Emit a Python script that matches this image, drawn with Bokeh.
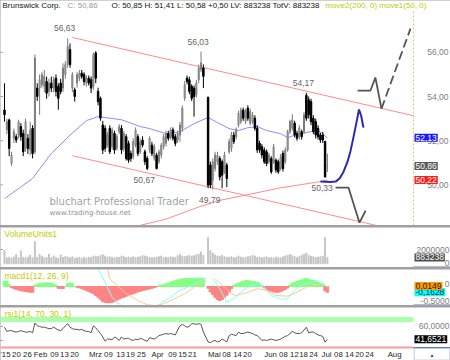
from bokeh.plotting import figure
from bokeh.models import Range1d, Label, ColumnDataSource
from bokeh.layouts import column
from bokeh.embed import file_html
from bokeh.resources import INLINE

nan = float("nan")

# ---------------- data ----------------
days = [*range(86), *range(87, 139)]  # trading-day slots, one missing day

opens = [53.39, 52.49, 52.94, 50.97, 52.11, 52.18, 52.26, 52.64, 52.33, 51.65, 52.11, 51.58, 52.56, 51.50,
         54.38, 54.38, 54.53, 54.46, 54.68, 54.23, 54.61, 54.38, 54.83, 54.46, 54.61, 54.38, 54.99, 55.44,
         56.12, 54.38, 54.30, 54.61, 54.83, 55.06, 54.99, 54.60, 54.83, 54.76, 54.46, 55.97, 54.23, 53.92,
         52.71, 52.56, 51.80, 52.56, 51.73, 52.33, 51.65, 52.41, 52.56, 51.65, 52.18, 51.88, 51.42, 51.27,
         51.80, 52.18, 51.50, 52.03, 51.50, 51.20, 51.58, 51.80, 51.20, 51.35, 51.05, 51.35, 51.73, 51.88,
         52.33, 52.18, 52.49, 52.18, 52.03, 52.26, 52.56, 53.92, 54.83, 54.76, 54.46, 54.38, 54.08, 54.76,
         55.21, 55.29,
         53.96, 50.90, 50.21, 50.74, 51.05, 51.20, 51.05, 50.59, 50.90, 51.50, 51.65, 52.26, 52.18, 52.71,
         52.86, 53.39, 52.86, 53.47, 52.79, 52.86, 53.02, 52.56, 51.88, 51.73, 51.58, 51.50, 51.05, 51.20,
         51.05, 51.12, 51.05, 50.74, 51.42, 51.05, 51.58, 52.41, 52.56, 52.79, 52.33, 52.18, 52.41, 52.41,
         54.05, 53.85, 53.77, 53.02, 52.86, 52.56, 52.26, 52.26, 51.96, 50.85]
highs = [54.60, 53.00, 53.00, 51.50, 52.55, 52.30, 52.95, 52.80, 52.50, 53.00, 52.30, 52.86, 52.70, 55.90,
         54.60, 55.00, 55.10, 55.20, 54.90, 54.80, 54.90, 54.90, 55.00, 54.60, 54.80, 55.50, 55.60, 56.63,
         56.40, 55.10, 54.40, 55.10, 55.20, 55.20, 55.10, 54.95, 54.95, 54.90, 56.00, 56.05, 54.40, 54.00,
         52.90, 52.70, 52.40, 52.70, 52.60, 52.45, 52.30, 52.75, 52.70, 52.45, 52.30, 52.00, 51.55, 52.10,
         52.60, 52.30, 52.10, 52.20, 51.60, 51.30, 52.20, 51.95, 51.85, 51.45, 51.60, 51.90, 52.30, 52.45,
         52.45, 52.60, 52.60, 52.30, 52.45, 52.85, 53.60, 54.70, 54.95, 54.90, 54.55, 54.50, 54.75, 55.45,
         56.03, 55.45,
         54.00, 51.05, 51.20, 51.50, 51.50, 51.30, 51.15, 51.50, 51.00, 52.10, 52.40, 52.40, 52.60, 53.35,
         53.50, 53.50, 53.45, 53.60, 53.45, 53.30, 53.15, 52.70, 52.00, 51.85, 51.70, 51.60, 51.45, 51.30,
         51.85, 51.20, 51.15, 51.40, 51.55, 51.70, 52.50, 52.95, 53.20, 52.90, 52.45, 52.70, 52.50, 53.30,
         54.17, 54.00, 53.90, 53.15, 53.00, 52.70, 52.35, 52.40, 52.00, 51.41]
lows = [52.86, 52.30, 51.30, 50.85, 51.90, 51.90, 52.10, 52.00, 51.30, 51.50, 51.40, 51.35, 51.20, 51.40,
        53.80, 53.17, 54.40, 54.20, 53.90, 54.00, 54.20, 54.20, 54.00, 53.40, 54.10, 54.20, 54.80, 55.30,
        55.30, 54.20, 53.77, 54.40, 54.70, 54.80, 54.50, 54.45, 54.50, 54.15, 54.30, 54.60, 53.60, 52.90,
        51.40, 51.50, 51.70, 51.40, 51.60, 51.40, 51.55, 52.30, 51.40, 51.50, 51.10, 51.00, 51.05, 51.15,
        51.70, 51.30, 51.40, 51.70, 50.90, 50.67, 51.45, 51.30, 51.10, 50.70, 50.95, 51.20, 51.60, 51.75,
        52.00, 52.05, 52.00, 51.75, 51.90, 51.95, 52.40, 53.80, 54.55, 54.10, 53.80, 53.09, 53.95, 54.60,
        55.10, 54.38,
        49.85, 49.85, 49.79, 50.60, 50.90, 50.20, 49.85, 50.50, 49.90, 51.40, 51.50, 51.85, 52.05, 52.60,
        52.75, 52.90, 52.75, 52.90, 52.70, 52.75, 52.45, 51.45, 51.45, 51.20, 50.95, 50.85, 50.95, 50.50,
        50.95, 50.55, 50.50, 50.65, 50.60, 50.95, 51.50, 52.30, 52.45, 52.15, 52.00, 52.05, 52.05, 52.30,
        52.90, 53.00, 52.70, 52.30, 52.10, 52.05, 51.90, 51.90, 50.33, 50.58]
closes = [53.17, 52.86, 51.65, 51.35, 52.41, 52.03, 52.86, 52.18, 51.50, 52.86, 51.65, 52.49, 51.42, 55.74,
          54.00, 54.76, 54.99, 54.91, 54.15, 54.61, 54.38, 54.76, 54.23, 53.92, 54.23, 55.29, 55.44, 56.27,
          55.44, 54.99, 54.00, 54.99, 55.06, 54.91, 54.68, 54.83, 54.61, 54.38, 55.89, 54.83, 53.77, 53.02,
          51.58, 51.65, 52.26, 51.50, 52.49, 51.58, 52.18, 52.64, 51.58, 52.33, 51.20, 51.12, 51.20, 51.96,
          52.49, 51.42, 51.95, 51.80, 51.05, 50.74, 52.11, 51.42, 51.73, 50.74, 51.50, 51.80, 52.18, 52.33,
          52.11, 52.49, 52.11, 51.88, 52.33, 52.71, 53.47, 54.53, 54.68, 54.23, 53.92, 54.00, 54.61, 55.29,
          55.52, 54.91,
          49.99, 49.99, 51.05, 51.35, 51.35, 50.36, 50.44, 51.35, 50.29, 51.96, 52.26, 51.96, 52.49, 53.24,
          53.39, 53.02, 53.32, 53.02, 53.32, 53.17, 52.56, 51.58, 51.58, 51.35, 51.05, 50.97, 51.35, 50.59,
          51.73, 50.67, 50.59, 51.27, 50.74, 51.58, 52.41, 52.86, 52.94, 52.26, 52.11, 52.56, 52.18, 53.17,
          53.02, 53.17, 52.86, 52.41, 52.26, 52.18, 52.03, 52.03, 50.36, 50.86]

volume_k = [1900, 850, 900, 800, 950, 1300, 850, 1800, 900, 850, 950, 1250, 850, 3100,
            900, 1300, 1050, 850, 900, 1350, 850, 1100, 900, 800, 1250, 900, 1050, 950,
            850, 1000, 800, 850, 900, 750, 900, 800, 950, 900, 1100, 1050, 1000, 1150,
            1300, 1100, 950, 1000, 900, 850, 950, 900, 1100, 1000, 900, 950, 850, 1000,
            900, 950, 1000, 1150, 1100, 1000, 900, 850, 900, 950, 1000, 1100, 850, 950,
            900, 1000, 950, 900, 1150, 1300, 1050, 1000, 1100, 1200, 1050, 1150, 1250, 1350, 1650, 1200,
            3700, 1850, 1500, 1250, 1100, 1050, 1200, 1000, 900, 950, 1000, 850, 900, 1100,
            950, 850, 900, 1000, 1050, 1200, 1100, 900, 950, 850, 900, 1000, 850, 900,
            800, 950, 900, 850, 1000, 1100, 1200, 1300, 1150, 1000, 900, 1050, 1200, 1350, 1500,
            1200, 1050, 1000, 900, 950, 1000, 1100, 3700, 883.238]

macd_hist = [0.15, 0.15, 0.05, -0.03, -0.06, -0.08, -0.10, -0.12, -0.13, -0.14, -0.15, -0.16, -0.16,
             0.04, 0.06, 0.08, 0.09, 0.10, 0.10, 0.10, 0.09, 0.07, 0.04, -0.05, -0.06, -0.06, 0.0,
             0.08, 0.10, 0.08, 0.0, -0.02, -0.04, -0.06, -0.08, -0.11, -0.14, -0.17, -0.20, -0.25,
             -0.30, -0.36, -0.42, -0.44, -0.45, -0.45, -0.44, -0.42, -0.38, -0.35, -0.32, -0.30, -0.27,
             -0.25, -0.22, -0.20, -0.18, -0.15, -0.13, -0.11, -0.10, -0.08, -0.07, -0.05, -0.03, -0.01,
             0.02, 0.04, 0.05, 0.07, 0.10, 0.12, 0.14, 0.16, 0.18, 0.20, 0.21, 0.22, 0.22, 0.23, 0.23,
             0.23, 0.23, 0.23, 0.23, 0.23,
             -0.05, -0.15, -0.22, -0.30, -0.36, -0.39, -0.36, -0.30, -0.24, -0.15, -0.06,
             0.03, 0.07, 0.10, 0.12, 0.14, 0.16, 0.16, 0.15, 0.14, 0.13, 0.12, 0.08, 0.03,
             -0.04, -0.08, -0.11, -0.13, -0.15, -0.16, -0.16, -0.14, -0.11, -0.08, -0.04,
             0.04, 0.10, 0.12, 0.14, 0.16, 0.18, 0.21, 0.23, 0.20, 0.18, 0.17, 0.14, 0.11, 0.08, 0.04,
             -0.12, -0.16]

macd_days = [40, 42, 44, 46, 48, 50, 52, 61, 65, 67, 71, 75, 80, 84, 86, 87, 89, 92, 95, 98,
             101, 104, 108, 111, 114, 118, 121, 124, 127, 131, 134, 137, 138]
macd_line = [0.49, 0.23, -0.02, -0.30, -0.44, -0.53, -0.62, -0.63, -0.56, -0.45, -0.30, -0.11, 0.03,
             0.17, 0.21, nan, 0.23, -0.06, -0.44, -0.34, -0.16, -0.02, 0.07, -0.02, -0.25, -0.36,
             -0.34, -0.11, 0.05, 0.12, 0.17, 0.05, -0.02]
signal_days = [44, 45, 49, 52, 57, 61, 65, 68, 72, 77, 81, 85, 86, 87, 90, 94, 97, 99, 104, 108,
               112, 116, 121, 125, 129, 134, 137, 138]
signal_line = [0.50, 0.21, -0.02, -0.20, -0.39, -0.51, -0.53, -0.48, -0.36, -0.20, -0.02, 0.12, 0.17,
               nan, 0.21, -0.02, -0.20, -0.25, -0.16, -0.06, -0.11, -0.25, -0.27, -0.16, -0.02, 0.07,
               0.03, -0.02]
macd_last = -0.1628
signal_last = 0.0149

rsi = [59, 53, 54, 54, 53, 52, 53, 54, 53, 52, 52, 53, 51, 65, 61, 60, 59, 59, 58, 57,
       57, 59, 57, 55, 54, 57, 61, 64, 59, 57, 56, 56, 55, 56, 54, 53, 53, 51, 61, 58,
       54, 50, 45, 39, 42, 42, 41, 45, 43, 40, 45, 42, 43, 43, 41, 40, 42, 41, 43, 42,
       40, 39, 44, 43, 42, 44, 47, 48, 49, 50, 49, 50, 49, 48, 55, 61, 63, 61, 59, 60,
       64, 64, 63, 64, 63, 52,
       38, 37, 39, 40, 38, 39, 42, 40, 38, 47, 49, 48, 47, 52, 50, 50, 51, 52, 51, 50,
       48, 47, 44, 40, 41, 40, 41, 42, 41, 40, 41, 42, 44, 46, 47, 50, 53, 51, 50, 50,
       51, 55, 59, 51, 52, 52, 50, 48, 47, 46, 37.6, 41.6521]
rsi_levels = [70, 30]

ma50_days = [0, 12, 20, 28, 35, 40, 50, 58, 62, 69, 75, 81, 87, 91, 96, 100, 104, 108, 112, 118,
             121, 126, 131, 134, 136, 138]
ma50 = [49.38, 50.29, 51.42, 52.25, 52.91, 53.09, 52.95, 52.64, 52.55, 52.32, 52.41, 52.77, 53.05,
        52.82, 52.55, 52.46, 52.59, 52.64, 52.46, 52.32, 52.14, 52.32, 52.41, 52.46, 52.32, 52.13]
ma200_days = [54, 58, 69, 83, 92, 104, 118, 126, 135, 138]
ma200 = [48.00, 48.17, 48.45, 49.00, 49.30, 49.56, 49.87, 50.00, 50.15, 50.22]

channel_days = [29, 174.79]
channel_upper = [56.67, 53.13]
channel_lower = [51.32, 47.78]

scen_blue_days = [135.0, 139.3, 141.5, 143.2, 144.9, 146.6, 147.9, 149.1, 150.4, 151.5, 152.4, 153.4]
scen_blue = [50.15, 50.13, 50.15, 50.29, 50.60, 51.05, 51.55, 52.14, 52.82, 53.41, 53.14, 52.59]
scen_up_days = [150.9, 156.4, 158.5, 161.1]
scen_up = [54.27, 54.27, 54.86, 53.45]
scen_up2_days = [161.1, 173.5]
scen_up2 = [53.45, 57.07]
scen_dn_days = [141.5, 147.0, 151.7, 154.3]
scen_dn = [49.88, 49.88, 48.29, 48.83]

peak_days = [27, 84, 129]
trough_days = [61, 89, 137]

price_ticks = [50, 52, 54, 56]
vol_ticks = [0, 2000000]
macd_ticks = [0, -0.5]
rsi_ticks = [60, 40]
tick_pos = [0.4, 5.1, 9.8, 15.4, 21.4, 25.6, 29.9, 38.9, 44.4, 49.6, 53.8, 58.5, 65.4, 71.8, 76.1,
            80.3, 89.7, 94.9, 99.6, 103.8, 113.7, 119.2, 123.9, 127.8, 132.1, 137.6, 142.7, 147.4,
            151.7, 156.0, 166.7]
tick_labels = ["'15", "20", "26", "Feb", "09", "13", "20", "Mrz", "09", "13", "19", "25", "Apr", "09",
               "15", "21", "Mai", "08", "14", "20", "Jun", "08", "12", "18", "24", "Jul", "08", "14",
               "20", "24", "Aug"]

# ---------------- helpers ----------------
def fmt(v, d=2):
    return f"{v:.{d}f}".replace(".", ",")

FONT = "Liberation Sans"
YEL = "#c8c800"
x_start, x_end, x_full = -1.71, 174.79, 190.6   # plot area ends at x_end, axis strip to x_full
tick_len = 0.9                                   # short edge ticks on the left border
xr = Range1d(x_start, x_full)


def make_fig(h, y0, y1):
    p = figure(width=450, height=h, x_range=xr, y_range=Range1d(y0, y1), title=None,
               output_backend="svg", toolbar_location=None,
               x_axis_location=None, y_axis_location=None,
               min_border_left=0, min_border_right=0, min_border_top=0, min_border_bottom=0)
    p.grid.visible = False
    p.outline_line_color = None
    p.border_fill_color = "white"
    p.background_fill_color = "white"
    return p


def lab(p, x, y, text, color="#808080", size="8.5px", align="left", baseline="middle",
        xo=0, yo=0, bg=None, font=FONT):
    kw = dict(x=x, y=y, text=text, text_color=color, text_font_size=size, text_align=align,
              text_baseline=baseline, x_offset=xo, y_offset=yo, text_font=font)
    if bg is not None:
        kw.update(background_fill_color=bg, padding=1)
    p.add_layout(Label(**kw))


def strip_base(p, y):
    p.segment(x0=[x_end], x1=[x_full], y0=[y], y1=[y], line_color="#6a78b8", line_width=2)


def edge_ticks(p, ticks):
    p.segment(x0=[x_start] * len(ticks), x1=[x_start + tick_len] * len(ticks), y0=ticks, y1=ticks,
              line_color="#8a8a8a", line_width=1)


# ---------------- main price panel ----------------
price_lo, price_hi, plot_top = 48.163, 58.344, 57.89
p1 = make_fig(225, price_lo, price_hi)

# dotted right-axis line
p1.segment(x0=[x_end], x1=[x_end], y0=[price_lo], y1=[plot_top], line_color="#f0c070",
           line_dash="2 2", line_width=1)
edge_ticks(p1, price_ticks)

# watermark
lab(p1, 19.2, 49.25, "bluchart Professional Trader", color="#a3a3a3", size="10px", font="DejaVu Sans")
lab(p1, 19.2, 48.75, "www.trading-house.net", color="#8f8f8f", size="7px", font="DejaVu Sans")

# trend channel and averages
p1.line(channel_days, channel_upper, line_color="#ff8c8c", line_width=1)
p1.line(channel_days, channel_lower, line_color="#ff8c8c", line_width=1)
p1.line(ma200_days, ma200, line_color="#ff8c8c", line_width=1)
p1.line(ma50_days, ma50, line_color="#8c8cff", line_width=1)

# candles
up = [c >= o for o, c in zip(opens, closes)]
def sub(vals, flag):
    return [v for v, u in zip(vals, up) if u == flag]
tops = [max(o, c) for o, c in zip(opens, closes)]
bots = [min(o, c) for o, c in zip(opens, closes)]
for flag, wick, fill, lc, w in [(True, "#7a7a7a", "#dcdcdc", "#7a7a7a", 0.42),
                                (False, "#000000", "#000000", "#000000", 0.62)]:
    src = ColumnDataSource(dict(x=sub(days, flag), h=sub(highs, flag), l=sub(lows, flag),
                                t=sub(tops, flag), b=sub(bots, flag)))
    p1.segment(x0="x", y0="l", x1="x", y1="h", source=src, line_color=wick, line_width=1)
    p1.vbar(x="x", width=w, top="t", bottom="b", source=src, fill_color=fill,
            line_color=lc, line_width=1)

# scenario drawings
p1.line(scen_blue_days, scen_blue, line_color="#2a2ab4", line_width=2)
p1.line(scen_up_days, scen_up, line_color="#555555", line_width=1.8)
p1.line(scen_up2_days, scen_up2, line_color="#555555", line_width=1.8, line_dash="9 4")
p1.line(scen_dn_days, scen_dn, line_color="#555555", line_width=1.8)

# high / low annotations
for d in peak_days:
    v = highs[days.index(d)]
    lab(p1, d, v, fmt(v), color="#666666", align="center", xo=-3, yo=10)
for d in trough_days:
    v = lows[days.index(d)]
    lab(p1, d, v, fmt(v), color="#666666", align="center", xo=-3, yo=-10)

# right side labels
for t in price_ticks:
    lab(p1, x_end, t, fmt(t), align="right", xo=35)
lab(p1, x_end, ma50[-1], fmt(ma50[-1]), color="white", xo=1, bg="#1a1aff")
lab(p1, x_end, closes[-1], fmt(closes[-1]), color="white", xo=1, bg="#5a5a5a")
lab(p1, x_end, ma200[-1], fmt(ma200[-1]), color="white", xo=1, bg="#ff1a1a")

# header line
chg = closes[-1] - closes[-2]
hdr = [("Brunswick Corp.", "#111111", 2),
       (f"C: {fmt(closes[-1])}", "#9a9a9a", 67),
       (f"O: {fmt(opens[-1])} H: {fmt(highs[-1])} L: {fmt(lows[-1])} +{fmt(chg)} "
        f"LV: {round(volume_k[-1]*1000)} TotV: {round(volume_k[-1]*1000)}", "#111111", 111),
       ("move2(200, 0) move1(50, 0)", YEL, 325)]
for txt, col, xo in hdr:
    lab(p1, x_start, price_hi, txt, color=col, size="8px", xo=xo, yo=-5)

# ---------------- volume panel ----------------
vol = [v * 1000 for v in volume_k]
vol_lo, vol_hi = -517000, 5077000
p2 = make_fig(40, vol_lo, vol_hi)
p2.vbar(x=days, width=0.4, top=vol, bottom=0, color="#c4c4c4")
strip_base(p2, vol_lo)
edge_ticks(p2, vol_ticks[1:])
lab(p2, x_start, vol_hi, "VolumeUnits1", color=YEL, baseline="top", xo=4, yo=-1)
lab(p2, x_end, vol_ticks[1], str(vol_ticks[1]), align="right", xo=36)
lab(p2, x_end, vol_ticks[0], str(vol_ticks[0]), align="right", xo=36, yo=1)
lab(p2, x_end, vol[-1], str(round(vol[-1])), color="white", xo=1, bg="#4d4d4d")

# ---------------- MACD panel ----------------
m_lo, m_hi = -0.528, 0.472
p3 = make_fig(36, m_lo, m_hi)
pos_d = [d for d, h in zip(days, macd_hist) if h >= 0]
pos_h = [h for h in macd_hist if h >= 0]
neg_d = [d for d, h in zip(days, macd_hist) if h < 0]
neg_h = [h for h in macd_hist if h < 0]
p3.vbar(x=pos_d, width=1.05, top=pos_h, bottom=0, color="#84ff84")
p3.vbar(x=neg_d, width=1.05, top=0, bottom=neg_h, color="#ff8484")
p3.line(signal_days, signal_line, line_color="#ffc890", line_width=1)
p3.line(macd_days, macd_line, line_color="#80ffff", line_width=1)
strip_base(p3, m_lo)
lab(p3, x_start, m_hi, "macd1(12, 26, 9)", color=YEL, baseline="top", xo=4, yo=-1)
lab(p3, x_end, macd_ticks[0], "0", align="right", xo=36, yo=2.5)
lab(p3, x_end, macd_ticks[1], fmt(macd_ticks[1], 4), align="right", xo=36, yo=3.5)
lab(p3, x_end, macd_last, fmt(macd_last, 4), color="#0a2a3a", xo=1, bg="#00ffff")
lab(p3, x_end, signal_last, fmt(signal_last, 4), color="#222222", xo=1, bg="#ff9a00")

# ---------------- RSI panel (with date labels underneath) ----------------
r_lo, r_hi = 11.43, 87.14
label_row = 20.0     # RSI-scale height of the date label row
p4 = make_fig(53, r_lo, r_hi)
p4.segment(x0=[x_start], x1=[x_end], y0=[rsi_levels[0]], y1=[rsi_levels[0]],
           line_color="#aaffaa", line_width=5)
p4.segment(x0=[x_start], x1=[x_end], y0=[rsi_levels[1]], y1=[rsi_levels[1]],
           line_color="#ff9a9a", line_width=2)
edge_ticks(p4, rsi_ticks)
strip_base(p4, rsi_levels[1] - 0.7)
p4.quad(left=[x_end + 0.3], right=[x_full - 0.3], bottom=[r_lo + 0.6], top=[rsi_levels[1] - 1.5],
        fill_color="white", line_color="#c4cadc", line_width=1)
p4.text(x=[(x_end + x_full) / 2], y=[label_row], text=["▲"], text_font_size="5px",
        text_color="#2a4aa0", text_align="center", text_baseline="middle")
p4.line(days, rsi, line_color="#555555", line_width=1)
lab(p4, x_start, r_hi, "rsi1(14, 70, 30, 1)", color=YEL, baseline="top", xo=4, yo=-1)
lab(p4, x_end, rsi_ticks[0], fmt(rsi_ticks[0], 4), align="right", xo=36)
lab(p4, x_end, rsi[-1], fmt(rsi[-1], 4), color="white", xo=1, bg="#000000")
for t, s in zip(tick_pos, tick_labels):
    lab(p4, t, label_row, s, color="#262626", size="7.8px", align="center")

layout = column(p1, p2, p3, p4, spacing=2, styles={"background-color": "#a0a0a0"})
open("out.html", "w").write(file_html(layout, INLINE))
